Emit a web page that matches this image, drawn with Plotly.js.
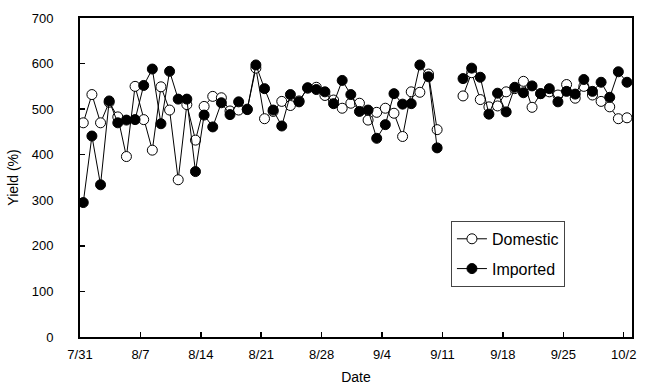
<!DOCTYPE html>
<html>
<head>
<meta charset="utf-8">
<script src="https://cdn.plot.ly/plotly-3.0.1.min.js"></script>
<style>html,body{margin:0;padding:0;background:#fff;}#chart{width:645px;height:388px;}</style>
</head>
<body>
<div id="chart"></div>
<script>
// Day index from 7/31 (0) to 10/2 (63); null = no measurement
const tickLabels = ["7/31","8/7","8/14","8/21","8/28","9/4","9/11","9/18","9/25","10/2"];
const days = [0,1,2,3,4,5,6,7,8,9,10,11,12,13,14,15,16,17,18,19,20,21,22,23,24,25,26,27,28,29,30,31,32,33,34,35,36,37,38,39,40,41,42,43,44,45,46,47,48,49,50,51,52,53,54,55,56,57,58,59,60,61,62,63];
const domestic = [470,532,470,515,483,396,550,477,410,549,498,345,510,432,506,528,525,496,498,500,590,479,495,517,508,518,546,548,530,520,502,513,513,476,493,502,491,440,538,537,577,455,null,null,529,580,521,505,507,538,545,561,504,534,538,531,554,524,550,531,517,505,479,481];
const imported = [295,441,334,518,470,476,477,552,588,468,583,522,522,363,487,461,514,488,516,499,597,545,498,463,532,516,547,543,538,512,563,532,495,498,436,466,534,511,512,597,571,415,null,null,567,590,570,489,535,494,548,536,551,534,545,516,539,533,565,539,559,526,582,559];

const tickOffset = -0.38;
const tickVals = tickLabels.map((_, i) => 7 * i + tickOffset);

const traces = [
  {
    x: days, y: domestic, name: "Domestic", type: "scatter", mode: "lines+markers",
    connectgaps: false, legendgroup: "d",
    line: {color: "#000", width: 1},
    marker: {symbol: "circle", size: 10, color: "#fff", line: {color: "#000", width: 1}}
  },
  {
    x: days, y: imported, name: "Imported", type: "scatter", mode: "lines+markers",
    connectgaps: false, legendgroup: "i",
    line: {color: "#000", width: 1},
    marker: {symbol: "circle", size: 10, color: "#000", line: {color: "#000", width: 1}}
  }
];

const layout = {
  width: 645, height: 388,
  margin: {l: 80, r: 13, t: 18, b: 51},
  paper_bgcolor: "#fff", plot_bgcolor: "#fff",
  font: {family: "Liberation Sans, Arial, sans-serif", size: 13, color: "#000"},
  showlegend: true,
  legend: {
    x: 0.672, y: 0.364, xanchor: "left", yanchor: "top",
    bgcolor: "rgba(255,255,255,0)", bordercolor: "#444", borderwidth: 1,
    font: {size: 16, color: "#000"}, tracegroupgap: 6,
    entrywidth: 132
  },
  xaxis: {
    range: [tickOffset, 63.58],
    tickmode: "array", tickvals: tickVals, ticktext: tickLabels,
    ticks: "inside", ticklen: 5, tickwidth: 1.5, tickcolor: "#000",
    showline: true, linecolor: "#000", linewidth: 2, mirror: true,
    showgrid: false, zeroline: false,
    tickfont: {size: 13}, ticklabelstandoff: 4,
    title: {text: "Date", font: {size: 14}, standoff: 12}
  },
  yaxis: {
    range: [0, 700], tickmode: "array", tickvals: [0,100,200,300,400,500,600,700],
    ticks: "inside", ticklen: 5, tickwidth: 1.5, tickcolor: "#000",
    showline: true, linecolor: "#000", linewidth: 2, mirror: true,
    showgrid: false, zeroline: false,
    tickfont: {size: 13}, ticklabelstandoff: 22,
    title: {text: "Yield (%)", font: {size: 14}, standoff: 10}
  }
};

Plotly.newPlot("chart", traces, layout, {displayModeBar: false, staticPlot: true});
</script>
</body>
</html>
